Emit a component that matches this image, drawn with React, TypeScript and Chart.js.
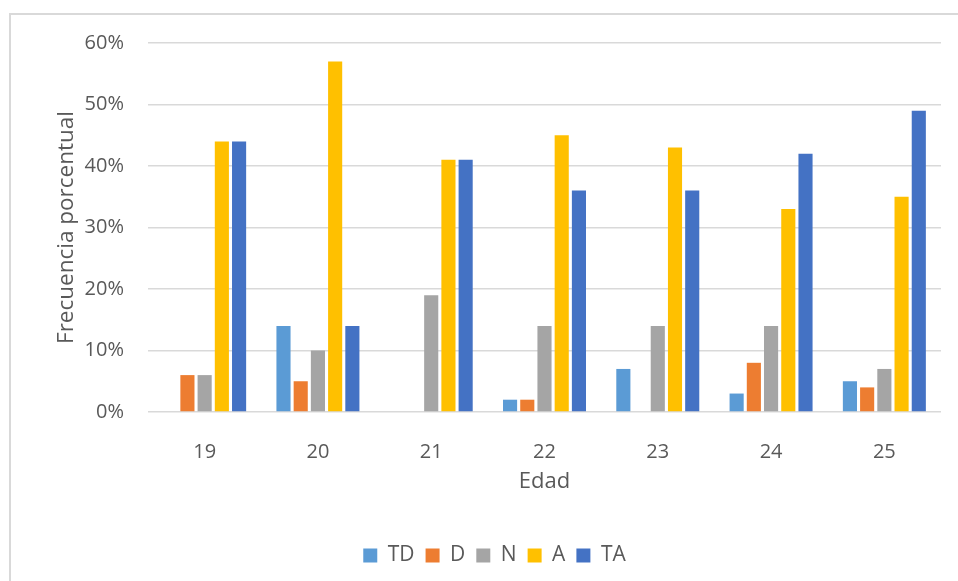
import React, { useEffect, useRef } from "react";
import { Chart, registerables } from "chart.js";

Chart.register(...registerables);

const categories = ["19", "20", "21", "22", "23", "24", "25"];
const seriesNames = ["TD", "D", "N", "A", "TA"];
const tdValues = [0, 14, 0, 2, 7, 3, 5];
const dValues = [6, 5, 0, 2, 0, 8, 4];
const nValues = [6, 10, 19, 14, 14, 14, 7];
const aValues = [44, 57, 41, 45, 43, 33, 35];
const taValues = [44, 14, 41, 36, 36, 42, 49];
const seriesColors = ["#5B9BD5", "#ED7D31", "#A5A5A5", "#FFC000", "#4472C4"];
const yTicks = [0, 10, 20, 30, 40, 50, 60];

const FONT = "'Open Sans', 'Liberation Sans', sans-serif";
const TEXT = "#595959";
const GRID = "#d9d9d9";

const legendShift = {
  id: "legendShift",
  afterLayout(chart: any) {
    if (chart.legend) {
      chart.legend.left += 24;
      chart.legend.right += 24;
    }
  },
};

export default function App() {
  const ref = useRef<HTMLCanvasElement | null>(null);

  useEffect(() => {
    if (!ref.current) return;
    const values = [tdValues, dValues, nValues, aValues, taValues];
    const chart = new Chart(ref.current, {
      type: "bar",
      data: {
        labels: categories,
        datasets: seriesNames.map((name, i) => ({
          label: name,
          data: values[i],
          backgroundColor: seriesColors[i],
          borderWidth: 0,
          categoryPercentage: 0.76,
          barPercentage: 0.82,
        })),
      },
      plugins: [legendShift],
      options: {
        responsive: false,
        animation: false,
        layout: { padding: { left: 0, top: 43, right: 17, bottom: 5 } },
        plugins: {
          tooltip: { enabled: false },
          legend: {
            position: "bottom",
            labels: {
              boxWidth: 14,
              boxHeight: 14,
              padding: 11,
              color: TEXT,
              font: { family: FONT, size: 21 },
            },
          },
        },
        scales: {
          x: {
            grid: { display: false },
            border: { display: false },
            ticks: {
              color: TEXT,
              padding: 20,
              font: { family: FONT, size: 20 },
            },
            title: {
              display: true,
              text: "Edad",
              color: TEXT,
              font: { family: FONT, size: 22 },
              padding: { top: 0, bottom: 39 },
            },
            afterFit: (scale: any) => {
              scale.height = 122;
            },
          },
          y: {
            min: 0,
            max: 60,
            afterBuildTicks: (scale: any) => {
              scale.ticks = yTicks.map((v) => ({ value: v }));
            },
            grid: { color: GRID, lineWidth: 1.5, drawTicks: false },
            border: { display: false },
            ticks: {
              color: TEXT,
              padding: 24,
              font: { family: FONT, size: 20 },
              callback: (v: any) => v + "%",
            },
            title: {
              display: true,
              text: "Frecuencia porcentual",
              color: TEXT,
              font: { family: FONT, size: 22.5 },
              padding: { top: 53, bottom: 0 },
            },
            afterFit: (scale: any) => {
              scale.width = 148;
            },
          },
        },
      },
    });
    return () => chart.destroy();
  }, []);

  return (
    <div style={{ position: "absolute", left: 0, top: 0, width: 958, height: 581, overflow: "hidden", background: "#fff" }}>
      <div
        style={{
          position: "absolute",
          left: 9,
          top: 13,
          width: 1000,
          height: 700,
          border: "2px solid " + GRID,
          boxSizing: "border-box",
        }}
      />
      <canvas ref={ref} width={958} height={581} style={{ position: "absolute", left: 0, top: 0 }} />
    </div>
  );
}
